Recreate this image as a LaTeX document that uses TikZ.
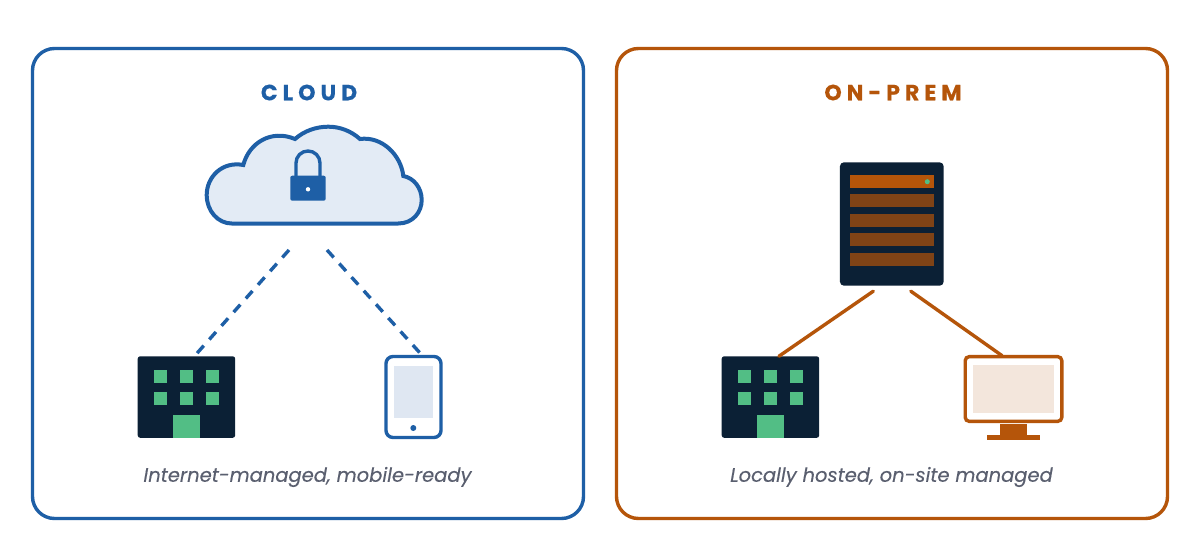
\documentclass[tikz,border=0pt]{standalone}
\usepackage{fontspec}
\setmainfont{Poppins}
\newfontfamily\titlefont[LetterSpace=23,FakeBold=0.4]{Poppins Bold}
\newfontfamily\captionfont[FakeBold=0.15]{Poppins Italic}
\usetikzlibrary{positioning}
\definecolor{cloudblue}{HTML}{1E5FA6}
\definecolor{cloudfill}{HTML}{E3EBF5}
\definecolor{premorange}{HTML}{B5550A}
\definecolor{barbrown}{HTML}{7F4316}
\definecolor{navyblock}{HTML}{0B2035}
\definecolor{wingreen}{HTML}{52BE85}
\definecolor{padscreen}{HTML}{DFE7F2}
\definecolor{monscreen}{HTML}{F3E6DC}
\definecolor{captiongrey}{HTML}{5A5F6F}
\tikzset{
  panelbox/.style={draw=#1, line width=3.4pt, rounded corners=22pt, minimum width=551pt, minimum height=470pt, inner sep=0pt, outer sep=0pt},
  titletext/.style={text=#1, font=\titlefont\fontsize{22}{26}\selectfont, inner sep=0pt},
  captiontext/.style={text=captiongrey, font=\captionfont\fontsize{19.5}{24}\selectfont, inner sep=0pt},
  plainblock/.style={fill=#1, inner sep=0pt, outer sep=0pt},
  link/.style={line width=3.4pt, draw=#1, line cap=round},
  pics/building/.style={code={
    \fill[navyblock, rounded corners=2.5pt] (0,0) rectangle (97.5,81.5);
    \foreach \wx in {16.5,42.5,68.5}
      \foreach \wy in {13.5,36}
        \fill[wingreen] (\wx,\wy) rectangle ++(13,13);
    \fill[wingreen] (35.5,58.7) rectangle (62,81.5);
  }}
}
\begin{document}
\begin{tikzpicture}[x=1pt,y=-1pt]
    \useasboundingbox (0,0) rectangle (1200,551);
    \fill[white] (0,0) rectangle (1200,551);

    % left panel
    \node[panelbox=cloudblue] (cloudpanel) at (308,283.5) {};
    \node[titletext=cloudblue] (cloudtitle) at (309,92.5) {CLOUD};

    % cloud with lock
    \draw[draw=cloudblue, fill=cloudfill, line width=4pt]
      (231.7,223.5) -- (398.3,223.5)
      .. controls (413,223.5) and (421.7,212) .. (421.7,200)
      .. controls (421.7,188) and (414,178) .. (403.3,176)
      .. controls (401,155) and (382,136) .. (360,139)
      .. controls (351,131) and (340,126.7) .. (328.3,126.7)
      .. controls (316,126.7) and (304,131) .. (295,139)
      .. controls (271,129) and (249,143) .. (243.3,165)
      .. controls (222,161) and (206.7,177) .. (206.7,195)
      .. controls (206.7,211) and (218,223.5) .. (231.7,223.5) -- cycle;
    \draw[draw=cloudblue, line width=3.4pt] (296,178) -- (296,163) arc[start angle=180, end angle=360, radius=12] -- (320,178);
    \fill[cloudblue, rounded corners=2pt] (290.3,175.7) rectangle (325.7,200.7);
    \fill[white] (308,189.3) circle (2.2);
    \coordinate (cloudbase) at (308,223);

    % building and tablet
    \path (137.7,356.3) pic {building};
    \node[plainblock=none, minimum width=97.5pt, minimum height=81.5pt] (officeleft) at (186.4,397) {};
    \node[draw=cloudblue, line width=3.4pt, fill=white, rounded corners=7pt, minimum width=55pt, minimum height=81pt, inner sep=0pt, outer sep=0pt] (tablet) at (413.5,397) {};
    \fill[padscreen] (394,366) rectangle (433,418);
    \fill[cloudblue] (413.3,428) circle (3);

    \draw[link=cloudblue, dash pattern=on 10pt off 8.3pt, line cap=butt] ([shift={(-19,27)}]cloudbase) -- ([shift={(10.6,-3)}]officeleft.north);
    \draw[link=cloudblue, dash pattern=on 10pt off 8.3pt, line cap=butt] ([shift={(19,27)}]cloudbase) -- ([shift={(6.5,-3.5)}]tablet.north);

    \node[captiontext] (cloudcaption) at (307.5,477) {Internet-managed, mobile-ready};

    % right panel
    \node[panelbox=premorange] (prempanel) at (892,283.5) {};
    \node[titletext=premorange] (premtitle) at (893,92.5) {ON-PREM};

    % server rack
    \node[plainblock=navyblock, rounded corners=4pt, minimum width=103.7pt, minimum height=123.4pt] (rack) at (891.8,224) {};
    \fill[premorange] (849.7,175) rectangle (934,188);
    \foreach \by in {194.3,214,233.3,253}
      \fill[barbrown] (849.7,\by) rectangle (934,\by+13);
    \fill[wingreen] (927.3,181.7) circle (2.5);

    % building and monitor
    \path (721.7,356.3) pic {building};
    \node[plainblock=none, minimum width=97.5pt, minimum height=81.5pt] (officeright) at (770.4,397) {};
    \node[draw=premorange, line width=3.4pt, fill=white, rounded corners=4pt, minimum width=96.6pt, minimum height=64.7pt, inner sep=0pt, outer sep=0pt] (monitor) at (1013.5,389) {};
    \fill[monscreen] (973,365) rectangle (1054,413.3);
    \fill[premorange] (1000.3,424) rectangle (1026.7,434.7);
    \fill[premorange] (987.3,434.7) rectangle (1039.7,439.7);

    \draw[link=premorange] ([shift={(-18.5,5.5)}]rack.south) -- ([shift={(8.5,0)}]officeright.north);
    \draw[link=premorange] ([shift={(19,5.5)}]rack.south) -- ([shift={(-11.5,-1)}]monitor.north);

    \node[captiontext] (premcaption) at (891.5,477) {Locally hosted, on-site managed};
\end{tikzpicture}
\end{document}
